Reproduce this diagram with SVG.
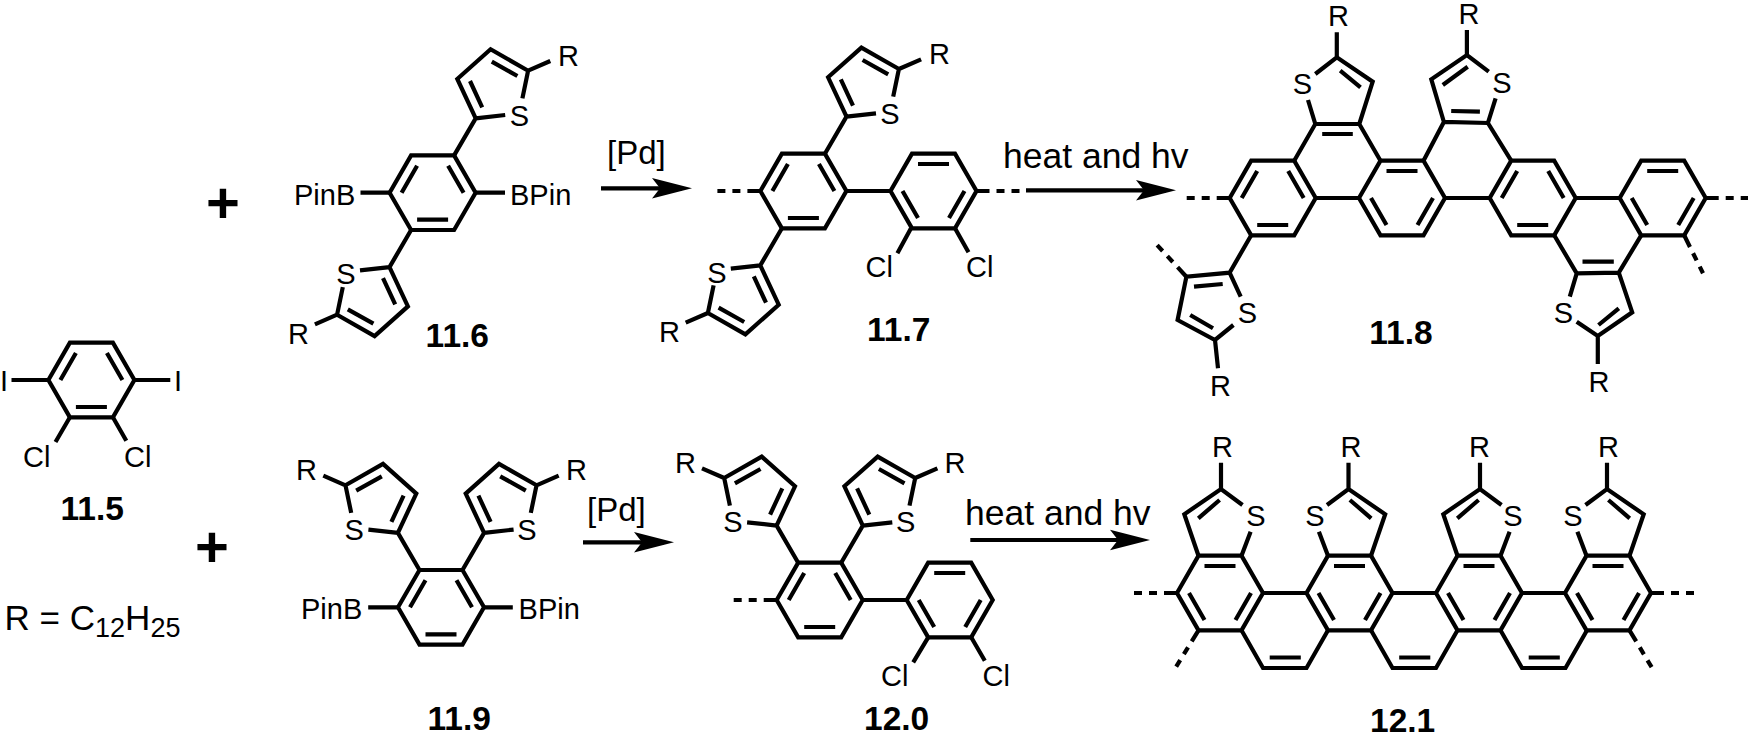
<svg xmlns="http://www.w3.org/2000/svg" width="1750" height="736" viewBox="0 0 1750 736">
<style>
.b{fill:none;stroke:#000;stroke-width:4.2}
.d{fill:none;stroke:#000;stroke-width:4.2;stroke-dasharray:13 7 8 7 8}
.s{stroke:#000;stroke-width:4.2;fill:none}
text{font-family:"Liberation Sans",Arial,sans-serif;fill:#000}
.a{font-size:29px}
.m{font-size:29px;text-anchor:middle}
.l{font-size:33.5px;font-weight:bold}
.c{font-size:33px}
.h{font-size:35.5px}
.p{font-size:58px;font-weight:bold;text-anchor:middle}
</style>
<defs>
<marker id="ah" markerUnits="userSpaceOnUse" markerWidth="42" markerHeight="24" refX="31" refY="12" orient="auto"><path d="M41,12 L1,1.7 L9,12 L1,22.3Z" fill="#000"/></marker>
<path id="ringA" class="b" d="M-43,0 L-21.5,-37.3 L21.5,-37.3 L43,0 L21.5,37.3 L-21.5,37.3Z M-31,0 L-15.5,-27 M15.5,-27 L31,0 M15.5,27 L-15.5,27"/>
<path id="ringB" class="b" d="M-43,0 L-21.5,-37.3 L21.5,-37.3 L43,0 L21.5,37.3 L-21.5,37.3Z M-15.5,-27 L15.5,-27 M31,0 L15.5,27 M-15.5,27 L-31,0"/>
<path id="thA" class="b" d="M21.5,-37.3 L43.1,-74.4 L24.7,-113.7 L58,-143.4 L95.5,-122 L89.8,-94.4 M95.5,-122 L117.7,-131.7 M43.1,-74.4 L72.6,-77.7 M49.6,-85.4 L37.4,-111.7 M59.2,-131 L84.8,-116.7"/>
<path id="thC" class="b" d="M-21.5,-37.3 L-35.7,-78.7 L1,-104 L22.5,-88 M21.5,-37.3 L30.6,-61.3 M-21.7,-74.7 L-0.4,-93 M1,-104 V-130.3"/>
<path id="bridge" class="b" d="M21.5,37.3 L43,75 L86.5,75 L108,37.3 M49.7,64.5 L80.8,64.5"/>
</defs>
<rect width="1750" height="736" fill="#fff"/>
<g id="connectors">
<line class="s" x1="601" y1="188.3" x2="682" y2="188.3" marker-end="url(#ah)"/>
<line class="s" x1="1026" y1="190.3" x2="1166" y2="190.3" marker-end="url(#ah)"/>
<line class="s" x1="583" y1="542.3" x2="664" y2="542.3" marker-end="url(#ah)"/>
<line class="s" x1="970.3" y1="540" x2="1140" y2="540" marker-end="url(#ah)"/>
<text class="c" x="607" y="164">[Pd]</text>
<text class="h" x="1003" y="168.3">heat and hv</text>
<text class="c" x="587" y="520.7">[Pd]</text>
<text class="h" x="965" y="525">heat and hv</text>
<text class="p" x="223" y="222.5">+</text>
<text class="p" x="212" y="567">+</text>
</g>
<g id="c11-5">
<use href="#ringA" x="91.4" y="380"/>
<path class="b" d="M11.5,380 H48.4 M134.4,380 H170.3 M69.9,417.3 L55.5,442 M112.9,417.3 L126.3,440.7"/>
<text class="a" x="0" y="391">I</text><text class="a" x="174" y="391">I</text>
<text class="a" x="23" y="467.3">Cl</text><text class="a" x="124" y="467">Cl</text>
<text class="l" x="60.5" y="519.7">11.5</text>
<text x="4.6" y="629.7" style="font-size:35px">R = C<tspan dy="7.6" style="font-size:27px">12</tspan><tspan dy="-7.6">H</tspan><tspan dy="7.6" style="font-size:27px">25</tspan></text>
</g>
<g id="c11-6">
<use href="#ringA" x="432.6" y="192.7"/>
<use href="#thA" transform="translate(432.6,192.7)"/>
<use href="#thA" transform="translate(432.6,192.7) rotate(180)"/>
<path class="b" d="M360.5,192.7 H389.6 M475.6,192.7 H505"/>
<text class="a" x="294" y="205">PinB</text><text class="a" x="510" y="205">BPin</text>
<text class="m" x="519.5" y="125.7">S</text><text class="a" x="558" y="66">R</text>
<text class="m" x="346" y="284">S</text><text class="a" x="288" y="344.3">R</text>
<text class="l" x="425.6" y="346.7">11.6</text>
</g>
<g id="c11-7">
<use href="#ringA" x="803.4" y="191"/>
<use href="#ringB" x="933.5" y="191"/>
<use href="#thA" transform="translate(803.4,191)"/>
<use href="#thA" transform="translate(803.4,191) rotate(180)"/>
<path class="b" d="M846.4,191 H890.5 M911,228.3 L897.4,253.3 M955,228.3 L968.5,252.3"/>
<path class="d" d="M760.4,191 H716.7 M976.5,191 H1020"/>
<text class="m" x="890" y="123.6">S</text><text class="a" x="929" y="64">R</text>
<text class="m" x="717" y="282.5">S</text><text class="a" x="659" y="342">R</text>
<text class="a" x="865.5" y="277.3">Cl</text><text class="a" x="966" y="277.3">Cl</text>
<text class="l" x="867" y="341">11.7</text>
</g>
<g id="c11-8">
<use href="#ringA" x="1272.7" y="198"/>
<use href="#ringB" x="1402" y="198"/>
<use href="#ringA" x="1532.7" y="198"/>
<use href="#ringB" x="1662.7" y="198"/>
<path class="b" d="M1315.7,198 H1359 M1445,198 H1489.7 M1575.7,198 H1619.7
M1294.2,160.7 L1315.3,124 L1359.3,124 L1380.5,160.7 M1322.2,134 L1352.8,134 M1315.3,124 L1308,100 M1359.3,124 L1372.7,81.7 L1336.8,57.3 L1315.3,74 M1336.8,57.3 V32.3 M1360.5,87.3 L1340.2,70.7
M1423.5,160.7 L1443.9,122 L1487.9,123 L1511.2,160.7 M1451.2,111 L1479.9,111.7 M1443.9,122 L1431.3,79.3 L1466.9,55 L1488.7,71.7 M1487.9,123 L1495.6,98.3 M1442.8,85 L1467.7,66.7 M1466.9,55 V30
M1554.2,235.3 L1576.7,273.3 L1618.8,272.7 L1641.2,235.3 M1582.5,261.7 L1613.8,261.7 M1576.7,273.3 L1569.8,296.7 M1618.8,272.7 L1632.2,312.3 L1597.8,336 L1576.7,321.7 M1618.8,308.3 L1598.5,325 M1597.8,336 V364
M1251.2,235.3 L1229.6,272.7 L1186.4,276.7 L1177.6,320 L1215,340 L1233.4,325 M1229.6,272.7 L1240.7,296.7 M1194,286.7 L1222.7,284 M1190.2,315 L1213,328.3 M1215,340 L1218,368.3"/>
<path class="d" d="M1229.7,198 H1186.4 M1705.7,198 H1748 M1186.4,276.7 L1157,245 M1684.2,235.3 L1703,273.3"/>
<text class="a" x="1328" y="25.7">R</text><text class="m" x="1302.3" y="94">S</text>
<text class="a" x="1458.5" y="24">R</text><text class="m" x="1502" y="92.7">S</text>
<text class="a" x="1588.5" y="391.7">R</text><text class="m" x="1563.5" y="322.7">S</text>
<text class="a" x="1210" y="395.7">R</text><text class="m" x="1247.5" y="322.7">S</text>
<text class="l" x="1369.3" y="344">11.8</text>
</g>
<g id="c11-9">
<use href="#ringA" x="441" y="607.3"/>
<use href="#thA" transform="translate(441,607.3)"/>
<use href="#thA" transform="translate(441,607.3) scale(-1,1)"/>
<path class="b" d="M368.2,607.3 H398 M484,607.3 H512.8"/>
<text class="a" x="301" y="618.7">PinB</text><text class="a" x="518.6" y="618.7">BPin</text>
<text class="m" x="354.2" y="539.7">S</text><text class="a" x="296" y="480.3">R</text>
<text class="m" x="526.8" y="539.7">S</text><text class="a" x="566" y="480">R</text>
<text class="l" x="427.5" y="729.7">11.9</text>
</g>
<g id="c12-0">
<use href="#ringA" x="819.7" y="600"/>
<use href="#ringB" x="949.7" y="600"/>
<use href="#thA" transform="translate(819.7,600)"/>
<use href="#thA" transform="translate(819.7,600) scale(-1,1)"/>
<path class="b" d="M862.7,600 H906.7 M928.2,637.3 L913.2,662.3 M971.2,637.3 L984.8,660.7"/>
<path class="d" d="M776.7,600 H733"/>
<text class="m" x="733" y="532">S</text><text class="a" x="675" y="472.5">R</text>
<text class="m" x="905.6" y="532">S</text><text class="a" x="944.5" y="472.5">R</text>
<text class="a" x="881" y="685.7">Cl</text><text class="a" x="982.5" y="685.7">Cl</text>
<text class="l" x="864" y="730">12.0</text>
</g>
<g id="c12-1">
<use href="#ringB" x="1220" y="593"/>
<use href="#ringB" x="1349.5" y="593"/>
<use href="#ringB" x="1479" y="593"/>
<use href="#ringB" x="1608" y="593"/>
<use href="#thC" transform="translate(1220,593)"/>
<use href="#thC" transform="translate(1349.5,593) scale(-1,1)"/>
<use href="#thC" transform="translate(1479,593)"/>
<use href="#thC" transform="translate(1608,593) scale(-1,1)"/>
<use href="#bridge" x="1220" y="593"/>
<use href="#bridge" x="1349.5" y="593"/>
<use href="#bridge" x="1479" y="593"/>
<path class="b" d="M1263,593 H1306.5 M1392.5,593 H1436 M1522,593 H1565"/>
<path class="d" d="M1177,593 H1133.3 M1651,593 H1694.5 M1198.5,630.3 L1176.2,666.7 M1629.5,630.3 L1652.3,668.3"/>
<text class="a" x="1212" y="457.3">R</text><text class="m" x="1256" y="526">S</text>
<text class="a" x="1340.5" y="457.3">R</text><text class="m" x="1315" y="526">S</text>
<text class="a" x="1469" y="457.3">R</text><text class="m" x="1513" y="526">S</text>
<text class="a" x="1598" y="457.3">R</text><text class="m" x="1573" y="526">S</text>
<text class="l" x="1370" y="731.7">12.1</text>
</g>
</svg>
